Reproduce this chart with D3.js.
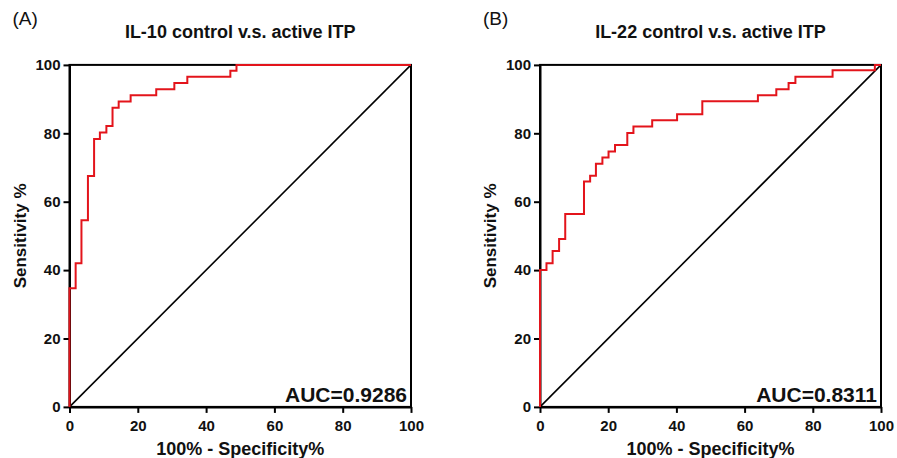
<!DOCTYPE html>
<html>
<head>
<meta charset="utf-8">
<script src="https://cdn.jsdelivr.net/npm/d3@7"></script>
<style>
  body { margin: 0; background: #fff; }
  text { font-family: "Liberation Sans", Arial, sans-serif; fill: #111; }
</style>
</head>
<body>
<script>
const width = 897;
const height = 458;

// ROC corner points: 100% - specificity (x) and sensitivity (y)
const il10Fpr  = [0, 0, 1.8, 3.5, 5.4, 7.2, 8.9, 10.8, 12.6, 14.4, 17.9, 25.4, 30.7, 34.5, 47.1, 48.9, 100];
const il10Sens = [0, 34.7, 42.0, 54.6, 67.5, 78.3, 80.2, 82.1, 87.5, 89.3, 91.1, 92.9, 94.7, 96.5, 98.3, 100, 100];

const il22Fpr  = [0, 0, 1.9, 3.7, 5.6, 7.4, 12.9, 14.7, 16.4, 18.3, 20.1, 22.0, 25.6, 27.4, 32.9, 40.2, 47.6, 63.9, 69.3, 72.9, 74.9, 85.8, 98.2, 100];
const il22Sens = [0, 40.0, 42.0, 45.6, 49.1, 56.4, 65.9, 67.6, 71.1, 72.9, 74.7, 76.6, 80.1, 82.0, 83.8, 85.6, 89.4, 91.1, 92.9, 94.7, 96.5, 98.4, 100, 100];

const tickValues = [0, 20, 40, 60, 80, 100];
const panelLetters = ["(A)", "(B)"];
const titles = ["IL-10 control v.s. active ITP", "IL-22 control v.s. active ITP"];
const aucLabels = ["AUC=0.9286", "AUC=0.8311"];

const panels = [
    { left: 69.5, right: 411, fpr: il10Fpr, sens: il10Sens },
    { left: 540, right: 881, fpr: il22Fpr, sens: il22Sens }
];
const plotTop = 64.9, plotBottom = 406.9;

const svg = d3.select("body")
    .append("svg")
    .attr("width", width)
    .attr("height", height);

panels.forEach((p, i) => {
    const x = d3.scaleLinear().domain([0, 100]).range([p.left, p.right]);
    const y = d3.scaleLinear().domain([0, 100]).range([plotBottom, plotTop]);
    const g = svg.append("g");

    // frame (top + right)
    g.append("rect")
        .attr("x", x(0)).attr("y", y(100))
        .attr("width", x(100) - x(0)).attr("height", y(0) - y(100))
        .attr("fill", "none").attr("stroke", "#000").attr("stroke-width", 2);

    const xAxis = g.append("g")
        .attr("transform", `translate(0,${plotBottom})`)
        .call(d3.axisBottom(x).tickValues(tickValues).tickSize(6).tickSizeOuter(0).tickPadding(7));
    const yAxis = g.append("g")
        .attr("transform", `translate(${p.left},0)`)
        .call(d3.axisLeft(y).tickValues(tickValues).tickSize(6).tickSizeOuter(0).tickPadding(3));

    [xAxis, yAxis].forEach(a => {
        a.select(".domain").attr("stroke", "#000").attr("stroke-width", 2);
        a.selectAll(".tick line").attr("stroke", "#000").attr("stroke-width", 2);
        a.selectAll(".tick text")
            .attr("fill", "#111")
            .style("font-family", "'Liberation Sans', Arial, sans-serif")
            .style("font-size", "15px")
            .style("font-weight", "bold");
    });

    // reference diagonal
    g.append("line")
        .attr("x1", x(0)).attr("y1", y(0))
        .attr("x2", x(100)).attr("y2", y(100))
        .attr("stroke", "#000").attr("stroke-width", 1.6);

    // ROC curve
    const pts = p.fpr.map((v, k) => [v, p.sens[k]]);
    g.append("path")
        .datum(pts)
        .attr("fill", "none")
        .attr("stroke", "#e3141b")
        .attr("stroke-width", 2)
        .attr("d", d3.line().x(d => x(d[0])).y(d => y(d[1])).curve(d3.curveStepAfter));

    // texts
    g.append("text")
        .attr("x", p.left - 57).attr("y", 25)
        .style("font-size", "19px")
        .text(panelLetters[i]);

    g.append("text")
        .attr("x", (p.left + p.right) / 2).attr("y", 38)
        .attr("text-anchor", "middle")
        .style("font-size", "18px").style("font-weight", "bold")
        .text(titles[i]);

    g.append("text")
        .attr("x", p.right - 4).attr("y", 402)
        .attr("text-anchor", "end")
        .style("font-size", "21px").style("font-weight", "bold")
        .text(aucLabels[i]);

    g.append("text")
        .attr("x", (p.left + p.right) / 2).attr("y", 455)
        .attr("text-anchor", "middle")
        .style("font-size", "18px").style("font-weight", "bold")
        .text("100% - Specificity%");

    g.append("text")
        .attr("transform", `translate(${p.left - 44},${(plotTop + plotBottom) / 2}) rotate(-90)`)
        .attr("text-anchor", "middle")
        .style("font-size", "17px").style("font-weight", "bold")
        .text("Sensitivity %");
});
</script>
</body>
</html>
